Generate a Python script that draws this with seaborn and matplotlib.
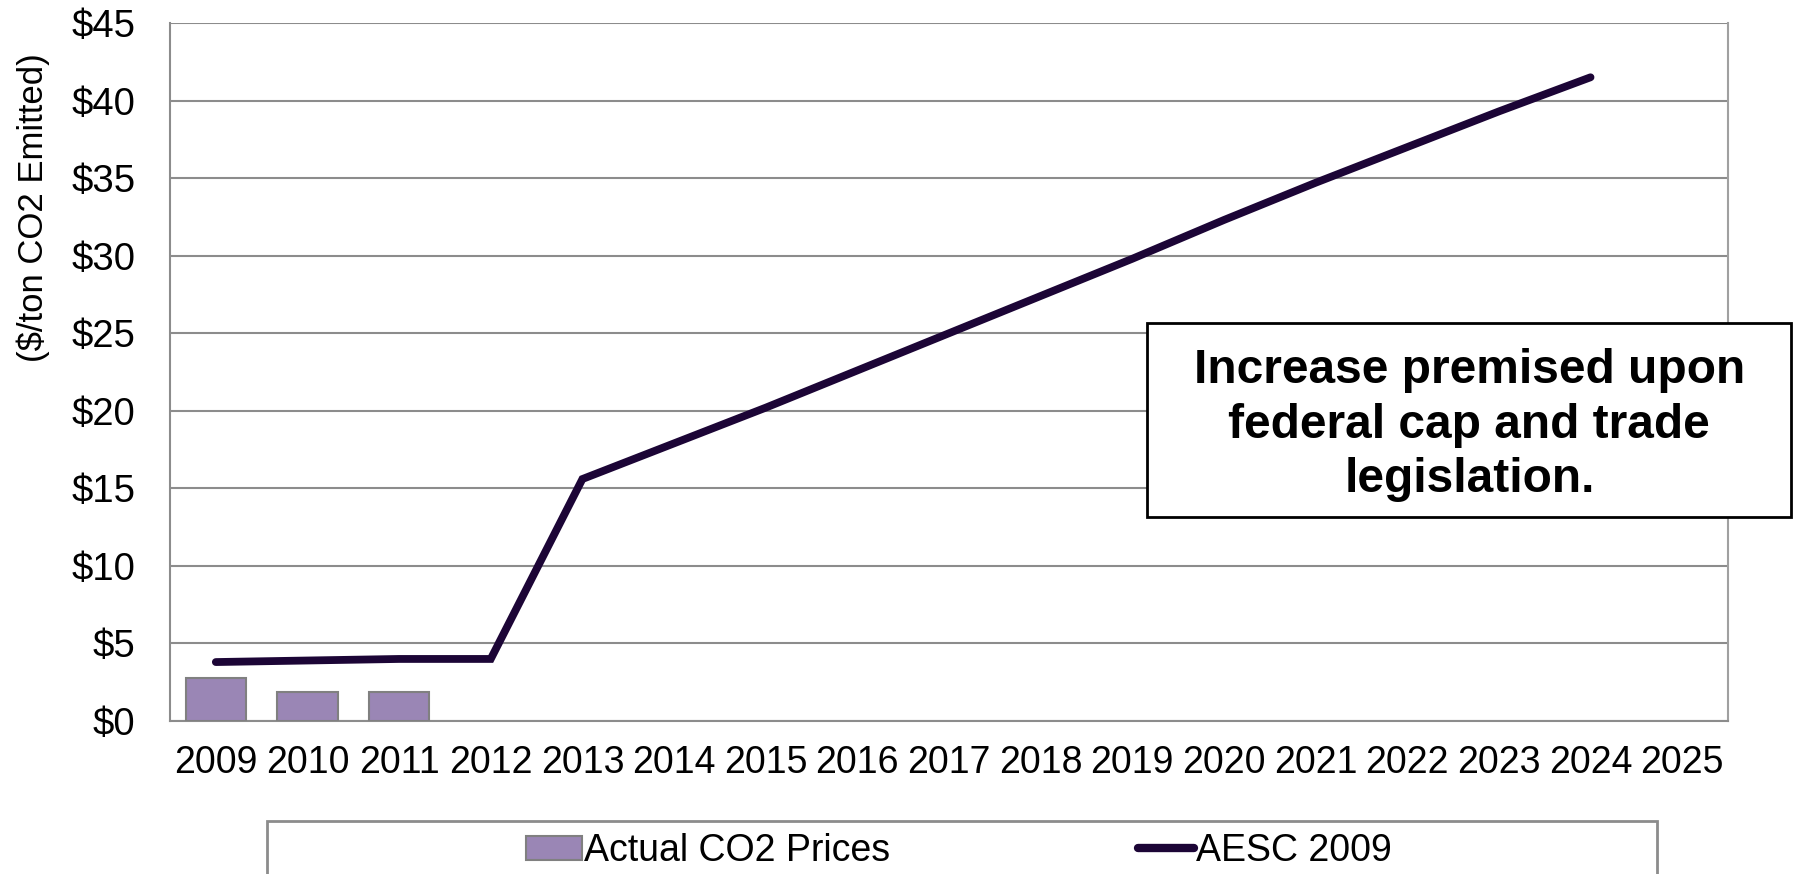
import matplotlib
matplotlib.use("Agg")
import matplotlib.pyplot as plt
import seaborn as sns
import numpy as np
import pandas as pd
from matplotlib.patches import Rectangle, Patch
from matplotlib.lines import Line2D

# ---- data ----
years = [str(y) for y in range(2009, 2026)]
actual_years = ["2009", "2010", "2011"]
actual_prices = [2.8, 1.9, 1.85]
aesc_years = ["2009", "2010", "2011", "2012", "2013", "2014", "2015", "2016",
              "2017", "2018", "2019", "2020", "2021", "2022", "2023", "2024"]
aesc_prices = [3.8, 3.9, 4.0, 4.0, 15.6, 17.9, 20.2, 22.6,
               25.0, 27.4, 29.8, 32.3, 34.7, 37.0, 39.3, 41.5]
y_ticks = [0, 5, 10, 15, 20, 25, 30, 35, 40, 45]
y_label = "($/ton CO2 Emitted)"
note = "Increase premised upon\nfederal cap and trade\nlegislation."
legend_labels = ["Actual CO2 Prices", "AESC 2009"]

sns.set_style("white")
plt.rcParams["font.family"] = ["Liberation Sans", "DejaVu Sans"]
plt.rcParams["text.color"] = "black"
plt.rcParams["xtick.color"] = "black"
plt.rcParams["ytick.color"] = "black"

bar_color = "#9a86b5"
line_color = "#1c0536"
grid_color = "#8c8c8c"

fig = plt.figure(figsize=(17.98, 8.74), dpi=100)
ax = fig.add_axes([170/1798, 1-721/874, (1728-170)/1798, (721-23)/874])

bar_df = pd.DataFrame({"year": actual_years, "price": actual_prices})
sns.barplot(data=bar_df, x="year", y="price", order=years, color=bar_color,
            saturation=1, width=0.66, edgecolor="#808080", linewidth=1.5,
            ax=ax, zorder=3)

pos = [years.index(y) for y in aesc_years]
line_df = pd.DataFrame({"pos": pos, "price": aesc_prices})
sns.lineplot(data=line_df, x="pos", y="price", color=line_color, linewidth=5.6,
             ax=ax, zorder=4, solid_capstyle="round", solid_joinstyle="miter")

ax.set_xlim(-0.5, len(years) - 0.5)
ax.set_ylim(0, 45)
ax.set_yticks(y_ticks)
ax.set_yticklabels([f"${v}" for v in y_ticks])
ax.set_xticks(range(len(years)))
ax.set_xticklabels(years)
ax.set_xticks(np.arange(-0.5, len(years)), minor=True)
ax.tick_params(axis="x", which="major", length=0, pad=17, labelsize=27, labelcolor="black")
ax.tick_params(axis="x", which="minor", length=11, width=1.5, color=grid_color, direction="out")
ax.tick_params(axis="y", which="major", length=11, width=1.5, color=grid_color,
               direction="out", labelsize=27.5, pad=14, labelcolor="black")
ax.set_xlabel("")
ax.set_ylabel("")
ax.yaxis.grid(True, color=grid_color, linewidth=1.5)
ax.set_axisbelow(True)
ax.spines["top"].set_visible(False)
for side in ["left", "bottom"]:
    ax.spines[side].set_color(grid_color)
    ax.spines[side].set_linewidth(1.5)
ax.spines["right"].set_visible(True)
ax.spines["right"].set_color("#a0a0a0")
ax.spines["right"].set_linewidth(1.5)

fig.text(33/1798, 1-208/874, y_label, rotation=90, ha="center", va="center",
         fontsize=25, color="black")

# annotation box
ax.add_patch(Rectangle((0.627, 0.2923), 0.4133, 0.278, transform=ax.transAxes,
                       facecolor="white", edgecolor="black", linewidth=2,
                       clip_on=False, zorder=6))
ax.text(0.834, 0.424, note, transform=ax.transAxes, ha="center", va="center",
        fontsize=34.5, fontweight="bold", linespacing=1.27, zorder=7, color="black")

# legend frame
fig.patches.append(Rectangle((267/1798, -0.05), (1657-267)/1798, 1.05-821/874,
                             transform=fig.transFigure, facecolor="white",
                             edgecolor="#8c8c8c", linewidth=2))
handles = [Patch(facecolor=bar_color, edgecolor="#808080", linewidth=1.5),
           Line2D([0], [0], color=line_color, linewidth=6, solid_capstyle="round")]
fig.legend(handles, legend_labels, loc="center left",
           bbox_to_anchor=(526/1798, 1-851/874), ncol=2, frameon=False,
           fontsize=27, handlelength=1.5, handleheight=0.6, handletextpad=0.05,
           columnspacing=6.6, borderpad=0, borderaxespad=0, labelcolor="black")

fig.savefig("out.png", dpi=100)
